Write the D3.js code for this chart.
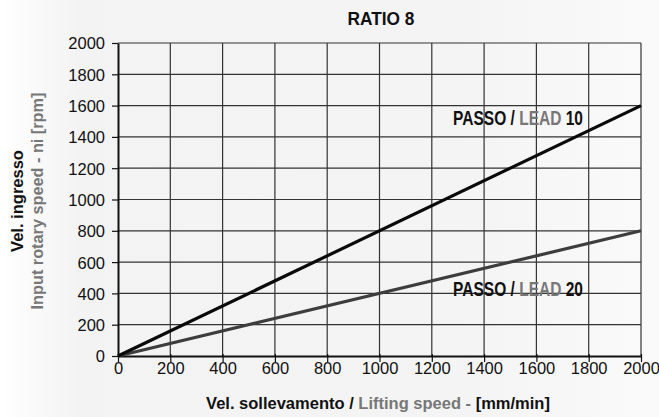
<!DOCTYPE html>
<html><head><meta charset="utf-8">
<script src="https://cdn.jsdelivr.net/npm/d3@7"></script>
<style>
html,body{margin:0;padding:0;}
body{width:659px;height:417px;overflow:hidden;background:#fff;}
svg{display:block;}
</style></head>
<body>
<svg id="c" width="659" height="417"></svg>
<script>
const xTicks = [0,200,400,600,800,1000,1200,1400,1600,1800,2000];
const yTicks = [0,200,400,600,800,1000,1200,1400,1600,1800,2000];
const lead10 = [[0,0],[2000,1600]];
const lead20 = [[0,0],[2000,800]];
const title = "RATIO 8";

const W=659,H=417;
const m={l:118,r:18,t:43,b:61};
const svg=d3.select("#c");
const font="'Liberation Sans',Arial,sans-serif";

const defs=svg.append("defs");
const g1=defs.append("linearGradient").attr("id","bg").attr("x1","0").attr("x2","1").attr("y1","0").attr("y2","0");
g1.append("stop").attr("offset","0").attr("stop-color","#ffffff");
g1.append("stop").attr("offset","0.12").attr("stop-color","#f3f3f3");
g1.append("stop").attr("offset","0.7").attr("stop-color","#f4f4f4");
g1.append("stop").attr("offset","1").attr("stop-color","#fafafa");
svg.append("rect").attr("width",W).attr("height",H).attr("fill","url(#bg)");

const x=d3.scaleLinear().domain([0,2000]).range([m.l,W-m.r]);
const y=d3.scaleLinear().domain([0,2000]).range([H-m.b,m.t]);

// grid
const grid=svg.append("g");
grid.selectAll("line.v").data(xTicks.slice(1)).join("line")
  .attr("x1",d=>x(d)).attr("x2",d=>x(d)).attr("y1",y(0)).attr("y2",y(2000))
  .attr("stroke","#333").attr("stroke-width",1.2);
grid.selectAll("line.h").data(yTicks.slice(1)).join("line")
  .attr("x1",x(0)).attr("x2",x(2000)).attr("y1",d=>y(d)).attr("y2",d=>y(d))
  .attr("stroke","#333").attr("stroke-width",1.2);

// axes
const xa=svg.append("g").attr("transform",`translate(0,${y(0)})`)
  .call(d3.axisBottom(x).tickValues(xTicks).tickSize(6).tickSizeOuter(0).tickFormat(d3.format("d")));
const ya=svg.append("g").attr("transform",`translate(${x(0)},0)`)
  .call(d3.axisLeft(y).tickValues(yTicks).tickSize(6).tickSizeOuter(0).tickFormat(d3.format("d")));
[xa,ya].forEach(a=>{
  a.select(".domain").attr("stroke","#111").attr("stroke-width",2);
  a.selectAll(".tick line").attr("stroke","#111").attr("stroke-width",1.2);
  a.selectAll(".tick text").attr("fill","#111").style("font-family",font).style("font-size","16.5px");
});
xa.selectAll(".tick line").attr("y1",-2);
xa.selectAll(".tick text").attr("dy",null).attr("y",18);
ya.selectAll(".tick text").attr("x",-13).attr("dy","0.36em");

// lines
const line=d3.line().x(d=>x(d[0])).y(d=>y(d[1]));
svg.append("path").datum(lead20).attr("d",line).attr("fill","none").attr("stroke","#3d3d3d").attr("stroke-width",3.2);
svg.append("path").datum(lead10).attr("d",line).attr("fill","none").attr("stroke","#0a0a0a").attr("stroke-width",3.2);

// labels (multi-colour), horizontally scaled to the reference width
function lbl(xp,yp,parts,anchor,size,len,rot){
  const g=svg.append("g");
  const t=g.append("text").attr("x",0).attr("y",0).attr("text-anchor",anchor||"start")
    .style("font-family",font).style("font-weight","bold").style("font-size",(size||16)+"px");
  parts.forEach(p=>t.append("tspan").text(p[0]).attr("fill",p[1]));
  let k=1;
  if(len){const w=t.node().getComputedTextLength(); if(w>0) k=len/w;}
  g.attr("transform",`translate(${xp},${yp})${rot?` rotate(${rot})`:""} scale(${k},1)`);
  return t;
}
lbl(x(1778),y(1479),[["PASSO / ","#111"],["LEAD","#777"],[" 10","#111"]],"end",19.5,130);
lbl(x(1778),y(383),[["PASSO / ","#111"],["LEAD","#777"],[" 20","#111"]],"end",19.5,130);

lbl(381,25,[[title,"#111"]],"middle",17.5,67);

lbl(378,409,[["Vel. sollevamento / ","#111"],["Lifting speed - ","#777"],["[mm/min]","#111"]],"middle",16.5,344);

lbl(23,201,[["Vel. ingresso","#111"]],"middle",16.5,102,-90);
lbl(43,201,[["Input rotary speed - ni [rpm]","#777"]],"middle",16.5,217,-90);
</script>
</body></html>
